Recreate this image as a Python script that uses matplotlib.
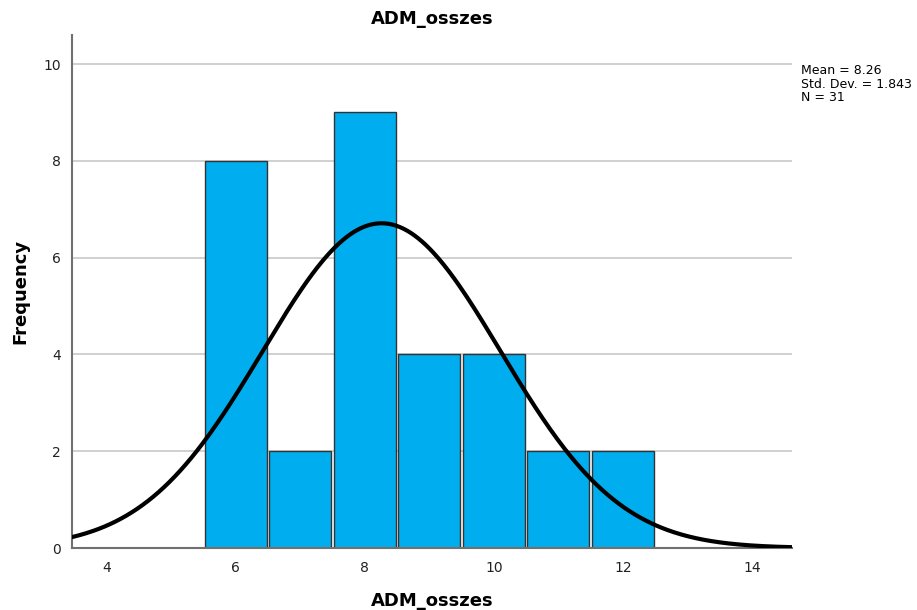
import numpy as np
import matplotlib
matplotlib.use("Agg")
import matplotlib.pyplot as plt

bin_centers = [6, 7, 8, 9, 10, 11, 12]
counts = [8, 2, 9, 4, 4, 2, 2]
mean_val = 8.26
std_val = 1.843
n_val = 31
x_ticks = [4, 6, 8, 10, 12, 14]
y_ticks = [0, 2, 4, 6, 8, 10]

fig = plt.figure(figsize=(9.17, 6.10), dpi=100)
ax = fig.add_axes([0.0785, 0.1016, 0.785, 0.841])

ax.bar(bin_centers, counts, width=0.96, color='#00AEEF', edgecolor='#333333', linewidth=1.0, zorder=2)

xs = np.linspace(3.46, 14.62, 400)
pdf = n_val * 1.0 / (std_val * np.sqrt(2 * np.pi)) * np.exp(-0.5 * ((xs - mean_val) / std_val) ** 2)
ax.plot(xs, pdf, color='black', linewidth=3, zorder=3, solid_capstyle='round')

ax.set_xlim(3.46, 14.62)
ax.set_ylim(0, 10.6)
ax.set_xticks(x_ticks)
ax.set_yticks(y_ticks)
ax.yaxis.grid(True, color='#c8c8c8', linewidth=1.2, zorder=0)
ax.set_axisbelow(True)
for s in ['top', 'right']:
    ax.spines[s].set_visible(False)
ax.spines['left'].set_color('#707070')
ax.spines['bottom'].set_color('#707070')
ax.spines['left'].set_linewidth(1.5)
ax.spines['bottom'].set_linewidth(1.5)
ax.tick_params(axis='both', length=0, labelsize=10, colors='#222222')
ax.tick_params(axis='y', pad=8)
ax.tick_params(axis='x', pad=9)

ax.set_title('ADM_osszes', fontsize=13, fontweight='bold', pad=8)
ax.set_xlabel('ADM_osszes', fontsize=13, fontweight='bold', labelpad=16)
ax.set_ylabel('Frequency', fontsize=13, fontweight='bold', labelpad=10)
ax.xaxis.set_label_coords(0.5, -0.085)

fig.text(0.873, 0.862, 'Mean = 8.26\nStd. Dev. = 1.843\nN = 31', fontsize=9,
         va='center', ha='left', linespacing=1.05)

fig.savefig('out.png', dpi=100)
